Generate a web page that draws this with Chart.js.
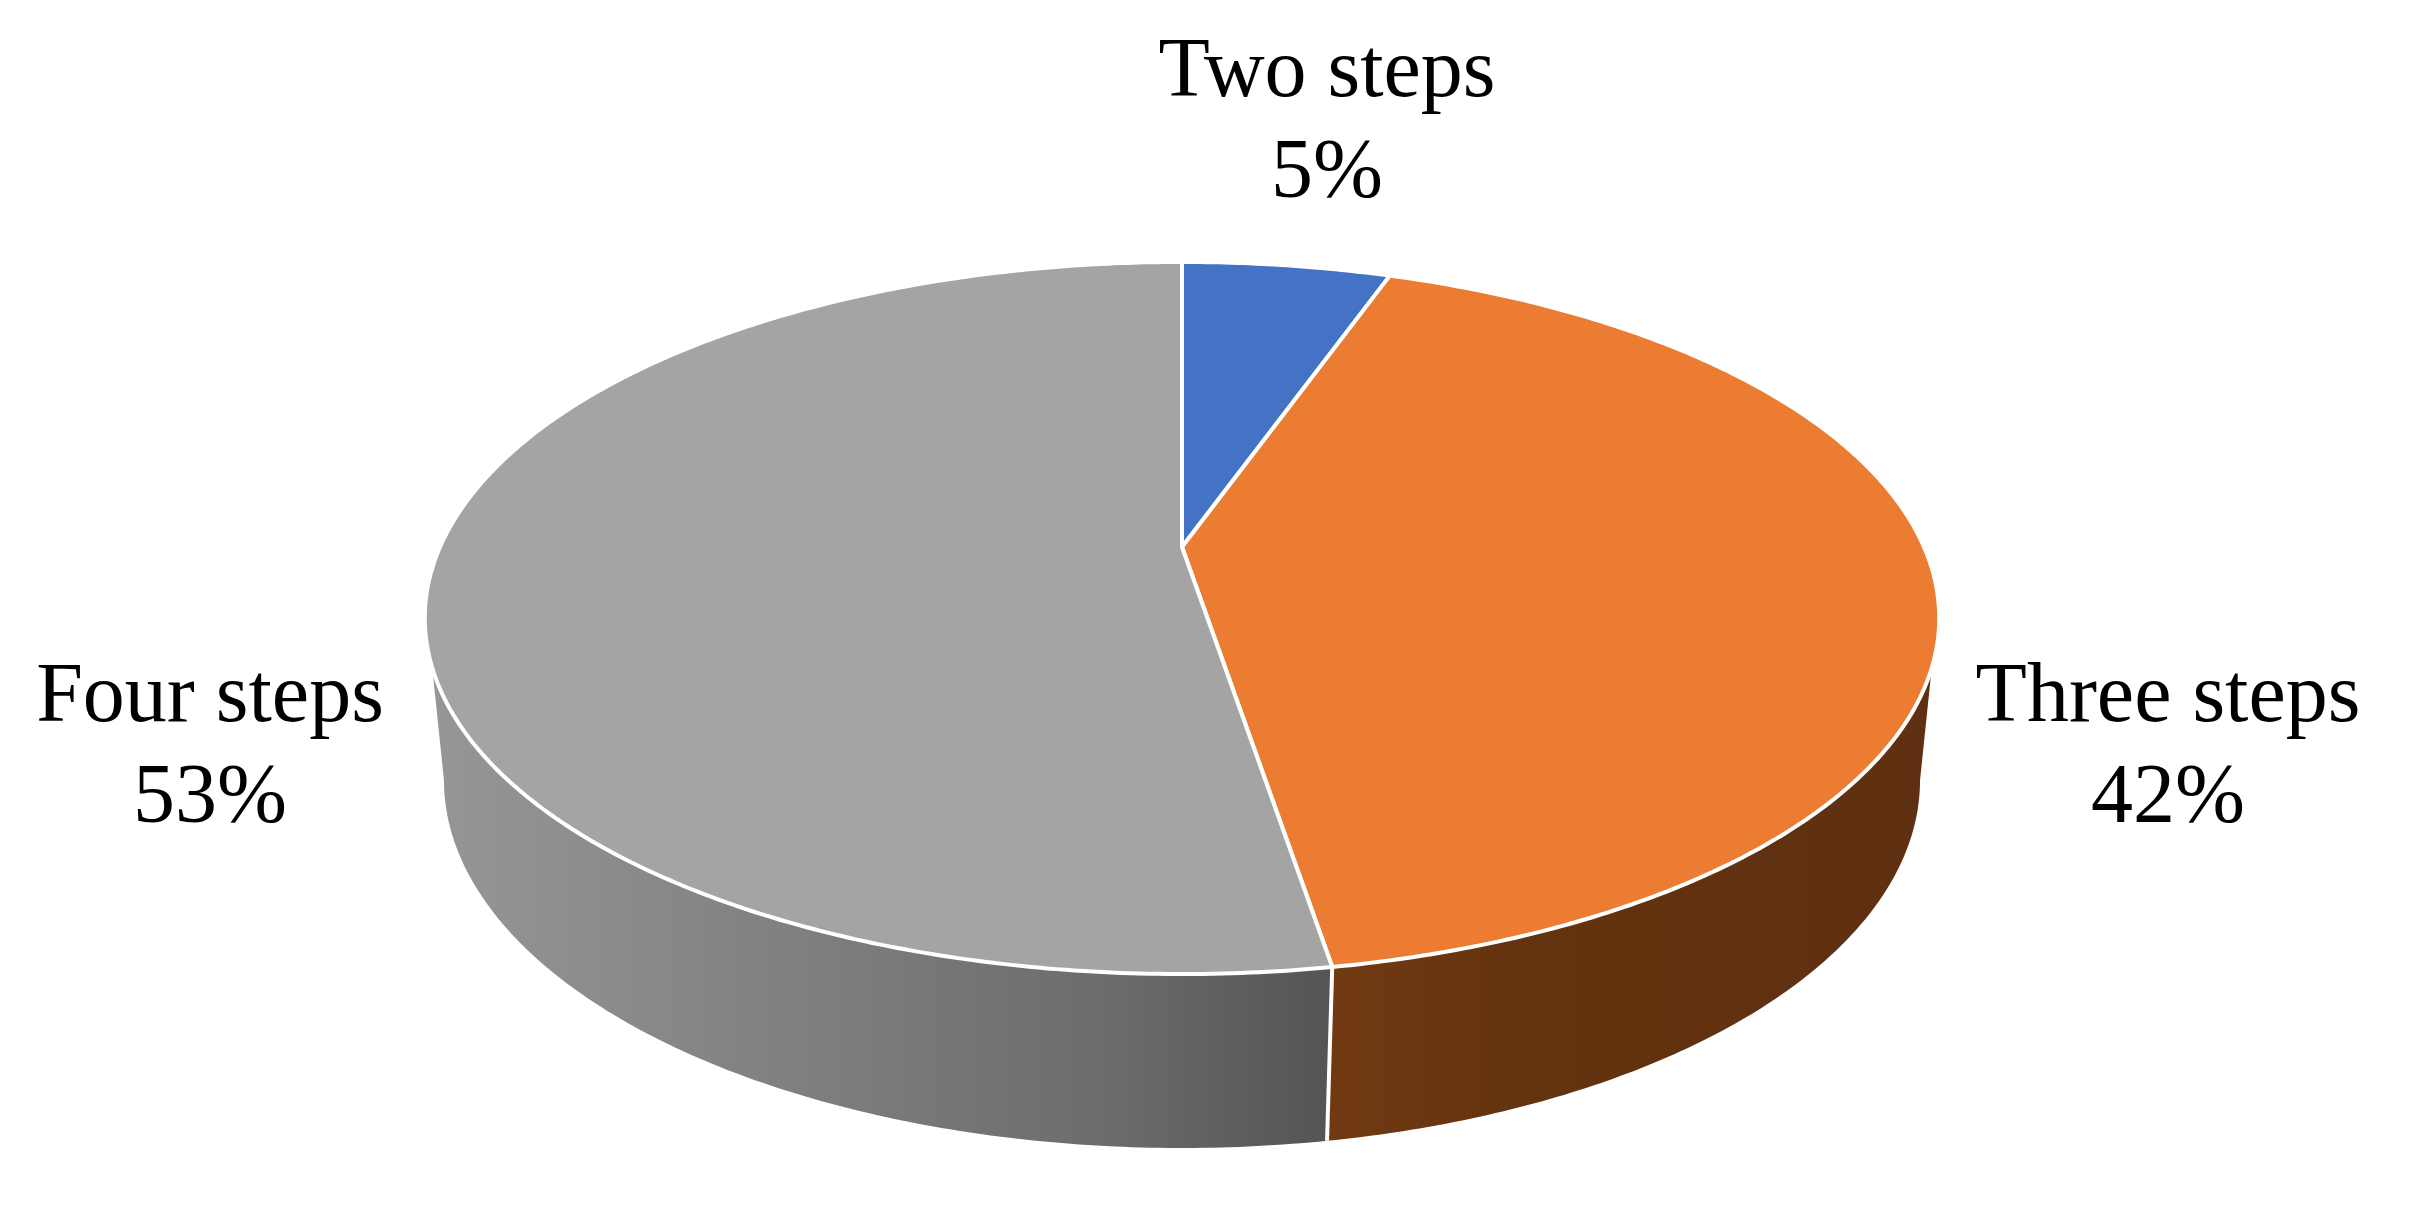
<!DOCTYPE html>
<html>
<head>
<meta charset="utf-8">
<script src="https://cdn.jsdelivr.net/npm/chart.js@4"></script>
<style>
html,body{margin:0;padding:0;background:#fff}
canvas{display:block}
</style>
</head>
<body>
<canvas id="chartSteps" width="2416" height="1210"></canvas>
<script>
const categories=['Two steps','Three steps','Four steps'];
const shares=[5.4,42,52.6];
const sliceColors=['#4472c4','#eb7c32','#a4a4a4'];

const labelX=[1327,2168,210];
const labelY=[96,721,721];
const lineGap=101;

// perspective of the disc: top rim and bottom rim of the wall
const topRim={a:742,b:341.9,c:0,p:-0.1994};
const lowRim={a:724.6,b:323.7,c:163.1,p:-0.19};
// the wall silhouette runs between these rim angles, so the two ends differ
const rad=Math.PI/180;
const topFrom=19.3*rad, topTo=160.7*rad, lowFrom=11*rad, lowTo=169*rad;

function project(arc,ang,rim){
  const u=Math.cos(ang),v=Math.sin(ang),den=1+rim.p*v;
  return [arc.x+rim.a*u/den, arc.y+(rim.b*v+rim.c)/den];
}

function rimPoints(arc,from,to,rim){
  const n=Math.max(2,Math.ceil(Math.abs(to-from)/0.01)),pts=[];
  for(let i=0;i<=n;i++) pts.push(project(arc,from+(to-from)*i/n,rim));
  return pts;
}

function wallGradient(ctx,idx){
  const g=ctx.createLinearGradient(420,0,1940,0);
  if(idx===1){
    g.addColorStop(0.59,'#723a12');
    g.addColorStop(0.72,'#64330f');
    g.addColorStop(1,'#5e3011');
  }else{
    g.addColorStop(0,'#979797');
    g.addColorStop(0.2,'#848484');
    g.addColorStop(0.45,'#6c6c6c');
    g.addColorStop(0.6,'#545454');
    g.addColorStop(1,'#545454');
  }
  return g;
}

class TiltedPie extends Chart.PieController{
  draw(){
    const ctx=this.chart.ctx, arcs=this._cachedMeta.data;
    ctx.save();
    ctx.lineJoin='round';
    // walls first, the top face paints over the rim
    arcs.forEach((arc,i)=>{
      if(arc.endAngle<=topFrom||arc.startAngle>=topTo) return;
      const t0=Math.max(arc.startAngle,topFrom), t1=Math.min(arc.endAngle,topTo);
      const l0=Math.max(arc.startAngle,lowFrom), l1=Math.min(arc.endAngle,lowTo);
      const pts=rimPoints(arc,t0,t1,topRim).concat(rimPoints(arc,l1,l0,lowRim));
      ctx.beginPath();
      pts.forEach((p,k)=>k?ctx.lineTo(p[0],p[1]):ctx.moveTo(p[0],p[1]));
      ctx.closePath();
      ctx.fillStyle=wallGradient(ctx,i);
      ctx.fill();
    });
    arcs.forEach(arc=>{
      if(arc.endAngle<=topFrom||arc.endAngle>=topTo) return;
      const a=project(arc,arc.endAngle,topRim),b=project(arc,arc.endAngle,lowRim);
      ctx.beginPath();
      ctx.moveTo(a[0],a[1]);
      ctx.lineTo(b[0],b[1]);
      ctx.strokeStyle='#fff';
      ctx.lineWidth=4;
      ctx.stroke();
    });
    arcs.forEach(arc=>{
      const pts=rimPoints(arc,arc.startAngle,arc.endAngle,topRim);
      ctx.beginPath();
      ctx.moveTo(arc.x,arc.y);
      pts.forEach(p=>ctx.lineTo(p[0],p[1]));
      ctx.closePath();
      ctx.fillStyle=arc.options.backgroundColor;
      ctx.fill();
      ctx.strokeStyle=arc.options.borderColor;
      ctx.lineWidth=arc.options.borderWidth;
      ctx.stroke();
    });
    ctx.restore();
  }
}
TiltedPie.id='tiltedPie';
TiltedPie.defaults={};
Chart.register(TiltedPie);

const pieLabels={
  id:'pieLabels',
  afterDraw(chart){
    const ctx=chart.ctx;
    ctx.save();
    ctx.fillStyle='#000';
    ctx.font='84px "Liberation Serif"';
    ctx.textAlign='center';
    ctx.textBaseline='alphabetic';
    categories.forEach((c,i)=>{
      ctx.fillText(c,labelX[i],labelY[i]);
      ctx.fillText(Math.round(shares[i])+'%',labelX[i],labelY[i]+lineGap);
    });
    ctx.restore();
  }
};

new Chart(document.getElementById('chartSteps').getContext('2d'),{
  type:'tiltedPie',
  data:{
    labels:categories,
    datasets:[{
      data:shares,
      backgroundColor:sliceColors,
      borderColor:'#fff',
      borderWidth:4,
      radius:742
    }]
  },
  options:{
    responsive:false,
    maintainAspectRatio:false,
    animation:false,
    layout:{padding:{left:0,right:52,top:0,bottom:116}},
    plugins:{legend:{display:false},tooltip:{enabled:false}}
  },
  plugins:[pieLabels]
});
</script>
</body>
</html>
